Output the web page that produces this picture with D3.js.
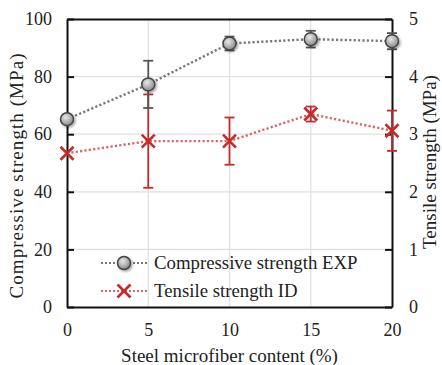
<!DOCTYPE html>
<html><head><meta charset="utf-8">
<script src="https://cdn.jsdelivr.net/npm/d3@7/dist/d3.min.js"></script>
<style>body{margin:0;background:#fff}svg{display:block}svg text{font-family:"Liberation Serif",serif}</style>
</head><body><svg id="c" width="442" height="365"></svg>
<script>
const fiber = [0, 5, 10, 15, 20];
const compressive = [65.2, 77.3, 91.5, 93.0, 92.3];
const compressiveErr = [0, 8.2, 2.4, 2.9, 2.8];
const tensile = [2.67, 2.88, 2.88, 3.35, 3.06];
const tensileErr = [0, 0.81, 0.41, 0.13, 0.35];
const xTicks = [0, 5, 10, 15, 20];
const yLeftTicks = [0, 20, 40, 60, 80, 100];
const yRightTicks = [0, 1, 2, 3, 4, 5];

const FONT = '"Liberation Serif", serif';
const svg = d3.select("#c").attr("font-family", FONT);
const L = 67, R = 392, T = 19, B = 307;
const x = d3.scaleLinear().domain([0, 20]).range([L, R]);
const yL = d3.scaleLinear().domain([0, 100]).range([B, T]);
const yR = d3.scaleLinear().domain([0, 5]).range([B, T]);

const defs = svg.append("defs");
const g = defs.append("radialGradient").attr("id", "grad").attr("cx", "40%").attr("cy", "35%").attr("r", "65%");
g.append("stop").attr("offset", "0%").attr("stop-color", "#e8e8e8");
g.append("stop").attr("offset", "100%").attr("stop-color", "#8a8a8a");
const f = defs.append("filter").attr("id", "sh").attr("x", "-50%").attr("y", "-50%").attr("width", "200%").attr("height", "200%");
f.append("feDropShadow").attr("dx", 1.5).attr("dy", 1.5).attr("stdDeviation", 1.2).attr("flood-color", "#000").attr("flood-opacity", 0.35);

// grid
svg.append("g").selectAll("line").data(xTicks.slice(1, -1)).join("line")
  .attr("x1", d => x(d)).attr("x2", d => x(d)).attr("y1", T).attr("y2", B)
  .attr("stroke", "#e0e0e0").attr("stroke-width", 1.2);
svg.append("g").selectAll("line").data(yLeftTicks.slice(1, -1)).join("line")
  .attr("x1", L).attr("x2", R).attr("y1", d => yL(d)).attr("y2", d => yL(d))
  .attr("stroke", "#e0e0e0").attr("stroke-width", 1.2);

// axes
const axL = svg.append("g").attr("transform", `translate(${L},0)`)
  .call(d3.axisLeft(yL).tickValues(yLeftTicks).tickFormat(d3.format("d")).tickSizeInner(-7).tickSizeOuter(0).tickPadding(15));
const axR = svg.append("g").attr("transform", `translate(${R},0)`)
  .call(d3.axisRight(yR).tickValues(yRightTicks).tickFormat(d3.format("d")).tickSizeInner(-7).tickSizeOuter(0).tickPadding(17));
const axB = svg.append("g").attr("transform", `translate(0,${B})`)
  .call(d3.axisBottom(x).tickValues(xTicks).tickFormat(d3.format("d")).tickSize(0).tickPadding(16));
const axT = svg.append("g").attr("transform", `translate(0,${T})`)
  .call(d3.axisTop(x).tickValues([]).tickSize(0));
[axL, axR, axB, axT].forEach(a => {
  a.attr("font-family", FONT).attr("font-size", 18);
  a.selectAll(".domain").attr("stroke", "#111").attr("stroke-width", 2);
  a.selectAll(".tick line").attr("stroke", "#111").attr("stroke-width", 2);
  a.selectAll("text").attr("fill", "#222");
});

// titles
function title(tr, s, len) {
  const t = svg.append("text").attr("transform", tr).attr("text-anchor", "middle").attr("font-size", 19)
    .attr("fill", "#222").text(s);
  if (len) t.attr("textLength", len).attr("lengthAdjust", "spacing");
}
title(`translate(23,176) rotate(-90)`, "Compressive strength (MPa)", 245);
title(`translate(436,162) rotate(-90)`, "Tensile strength (MPa)");
title(`translate(${(L + R) / 2},362)`, "Steel microfiber content (%)");

const red = "#c42b2b";
const cData = fiber.map((d, i) => ({ x: d, y: compressive[i], e: compressiveErr[i] }));
const tData = fiber.map((d, i) => ({ x: d, y: tensile[i], e: tensileErr[i] }));

function errbars(data, ys, color) {
  const gg = svg.append("g").attr("stroke", color).attr("stroke-width", 1.8);
  data.filter(d => d.e > 0).forEach(d => {
    gg.append("line").attr("x1", x(d.x)).attr("x2", x(d.x)).attr("y1", ys(d.y - d.e)).attr("y2", ys(d.y + d.e));
    [d.y - d.e, d.y + d.e].forEach(v => gg.append("line").attr("x1", x(d.x) - 5).attr("x2", x(d.x) + 5).attr("y1", ys(v)).attr("y2", ys(v)));
  });
}

errbars(tData, yR, red);
svg.append("path").datum(tData).attr("fill", "none").attr("stroke", "#d96666").attr("stroke-width", 2.4)
  .attr("stroke-dasharray", "2.2,2.2").attr("d", d3.line().x(d => x(d.x)).y(d => yR(d.y)));
errbars(cData, yL, "#555");
svg.append("path").datum(cData).attr("fill", "none").attr("stroke", "#777").attr("stroke-width", 2.4)
  .attr("stroke-dasharray", "2.2,2.2").attr("d", d3.line().x(d => x(d.x)).y(d => yL(d.y)));

function cross(sel, cx, cy, s) {
  sel.append("path").attr("d", `M${cx - s},${cy - s}L${cx + s},${cy + s}M${cx - s},${cy + s}L${cx + s},${cy - s}`)
    .attr("stroke", red).attr("stroke-width", 2.6).attr("fill", "none");
}
function circ(sel, cx, cy) {
  sel.append("circle").attr("cx", cx).attr("cy", cy).attr("r", 6.5).attr("fill", "url(#grad)")
    .attr("stroke", "#444").attr("stroke-width", 1.5).attr("filter", "url(#sh)");
}
const mk = svg.append("g");
tData.forEach(d => cross(mk, x(d.x), yR(d.y), 6.5));
cData.forEach(d => circ(mk, x(d.x), yL(d.y)));

// legend
const leg = svg.append("g");
const rows = [{ label: "Compressive strength EXP", type: "c", y: 263 }, { label: "Tensile strength ID", type: "t", y: 291 }];
rows.forEach(r => {
  leg.append("line").attr("x1", 101).attr("x2", 148).attr("y1", r.y).attr("y2", r.y)
    .attr("stroke", r.type === "c" ? "#777" : "#d96666").attr("stroke-width", 1.8)
    .attr("stroke-dasharray", "2,2");
  if (r.type === "c") circ(leg, 124, r.y); else cross(leg, 124, r.y, 6.5);
  leg.append("text").attr("x", 154).attr("y", r.y + 5.5).attr("font-size", 18.8).attr("fill", "#222").text(r.label);
});
</script></body></html>
